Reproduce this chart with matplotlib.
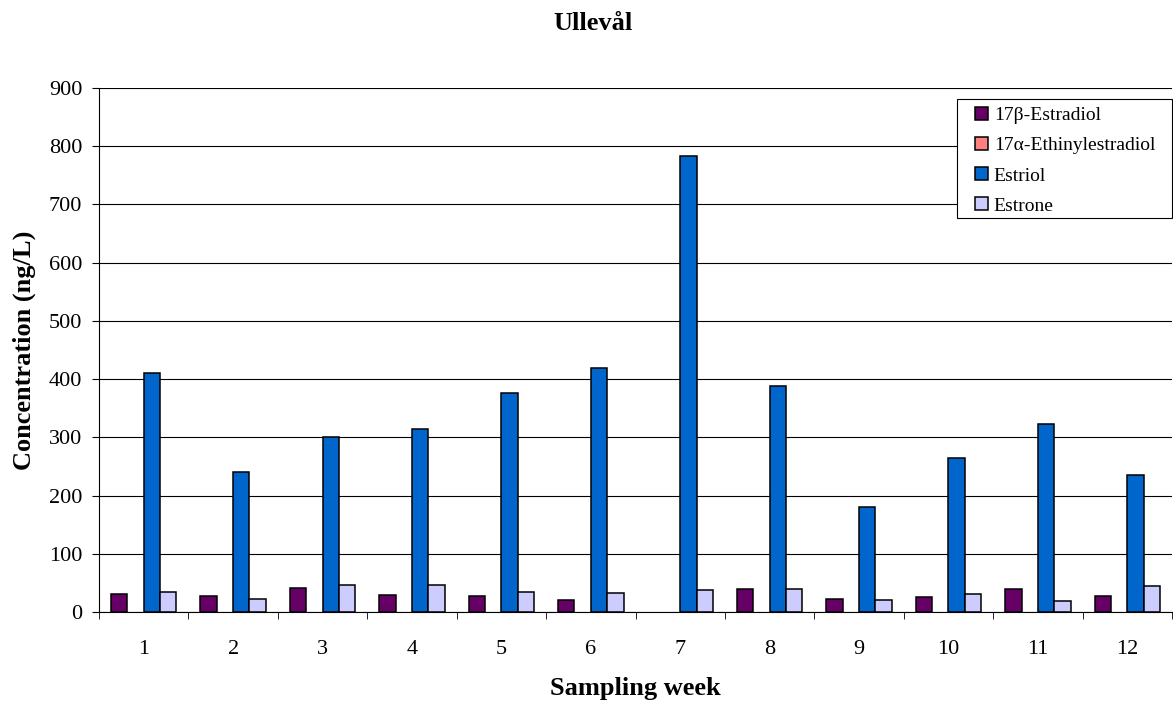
import numpy as np
import matplotlib
matplotlib.use("Agg")
import matplotlib.pyplot as plt
from matplotlib.patches import Rectangle
from matplotlib.ticker import FixedLocator, NullFormatter

weeks = [str(i) for i in range(1, 13)]
estradiol = [31, 28, 42, 30, 28, 21, np.nan, 40, 22, 26, 39, 27]
ethinylestradiol = [np.nan] * 12
estriol = [411, 240, 300, 315, 377, 419, 783, 388, 180, 264, 323, 236]
estrone = [35, 23, 46, 47, 34, 33, 37, 40, 21, 31, 19, 45]

series = [
    ("17\u03b2-Estradiol", estradiol, "#660066"),
    ("17\u03b1-Ethinylestradiol", ethinylestradiol, "#FF8080"),
    ("Estriol", estriol, "#0066CC"),
    ("Estrone", estrone, "#CCCCFF"),
]

plt.rcParams["font.family"] = ["Liberation Serif", "DejaVu Serif"]

W, H = 1173, 702
fig = plt.figure(figsize=(W / 100, H / 100), dpi=100)
ax = fig.add_axes([99 / W, 90 / H, 1073 / W, 524 / H])

x = np.arange(len(weeks))
w = 0.183
for i, (name, vals, col) in enumerate(series):
    ax.bar(x + (i - 1.5) * w, vals, w, color=col, edgecolor="black",
           linewidth=1.1, label=name)

ax.set_xlim(-0.5, len(weeks) - 0.5)
ax.set_ylim(0, 900)
ax.set_yticks(range(0, 901, 100))
ax.yaxis.grid(True, color="black", linewidth=0.8)
ax.set_axisbelow(True)

ax.set_xticks(x)
ax.set_xticklabels(weeks)
ax.tick_params(axis="x", which="major", length=0, pad=20, labelsize=16)
ax.xaxis.set_minor_locator(FixedLocator(np.arange(-0.5, len(weeks), 1.0)))
ax.xaxis.set_minor_formatter(NullFormatter())
ax.tick_params(axis="x", which="minor", length=5, direction="out")
ax.tick_params(axis="y", length=5, direction="out", labelsize=16, pad=7)

for s in ["top", "right"]:
    ax.spines[s].set_visible(False)

ax.set_ylabel("Concentration (ng/L)", fontsize=19, fontweight="bold", va="center")
ax.yaxis.set_label_coords((24 - 99) / 1073, 0.5)
ax.set_xlabel("Sampling week", fontsize=19, fontweight="bold", va="center")
ax.xaxis.set_label_coords(0.5, (612 - 689) / 524)
fig.text(593 / W, 1 - 23 / H, "Ullev\u00e5l", ha="center", va="center",
         fontsize=19, fontweight="bold")

# legend without frame, frame drawn by hand (wider side padding like Excel)
leg = ax.legend(loc="upper right", bbox_to_anchor=((1172 - 13) / W, 1 - 103 / H),
                bbox_transform=fig.transFigure, borderaxespad=0, fontsize=14,
                frameon=False, handlelength=0.65, handleheight=0.65,
                handletextpad=0.3, borderpad=0.2, labelspacing=0.66)
for h in leg.legend_handles:
    h.set_edgecolor("black")
leg.set_zorder(6)
fig.canvas.draw()
x0, x1 = 957, 1172
y0, y1 = H - 218, H - 99
ax.add_patch(Rectangle((x0 / W, y0 / H), (x1 - x0) / W, (y1 - y0) / H,
                       transform=fig.transFigure, facecolor="white",
                       edgecolor="black", linewidth=0.8, zorder=5,
                       clip_on=False))

fig.savefig("out.png", dpi=100)
